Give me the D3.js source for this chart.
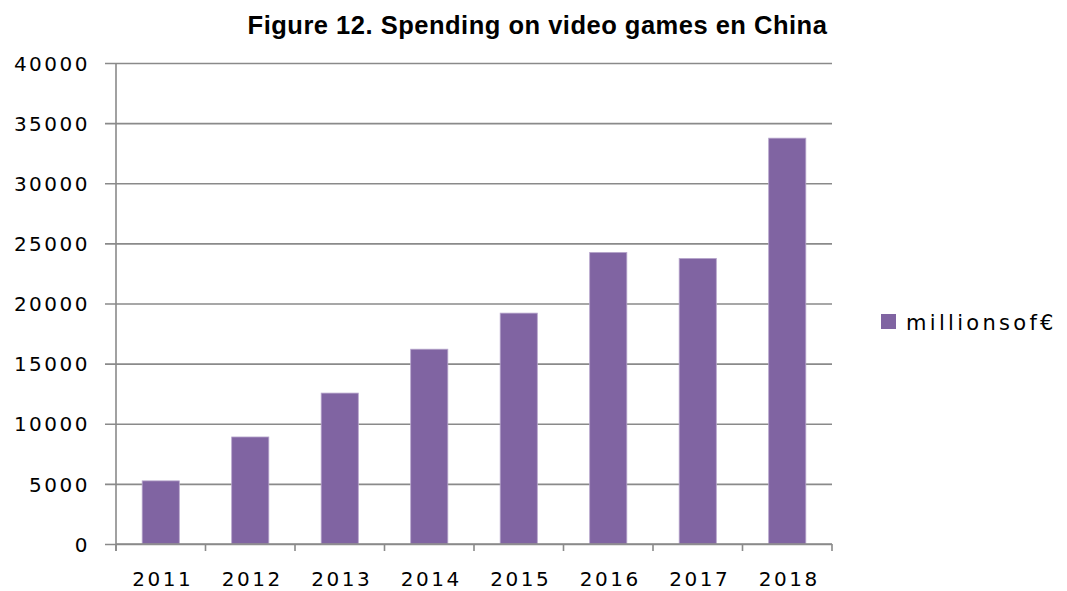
<!DOCTYPE html>
<html>
<head>
<meta charset="utf-8">
<script src="https://cdn.jsdelivr.net/npm/d3@7"></script>
<style>
  body { margin: 0; background: #fff; }
  svg text { fill: #000; }
</style>
</head>
<body>
<div id="chart"></div>
<script>
// data
var years = ["2011", "2012", "2013", "2014", "2015", "2016", "2017", "2018"];
var spending = [5250, 8900, 12550, 16200, 19200, 24250, 23750, 33750];
var yTicks = [0, 5000, 10000, 15000, 20000, 25000, 30000, 35000, 40000];
var seriesName = "millions of €";
var chartTitle = "Figure 12. Spending on video games en China";

var W = 1067, H = 591;
var MARGIN = {top: 63, right: 235, bottom: 47, left: 116};
var FONT = "DejaVu Sans, Verdana, sans-serif";

var svg = d3.select("#chart").append("svg")
  .attr("width", W).attr("height", H);

var x = d3.scaleBand()
  .domain(years)
  .range([MARGIN.left, W - MARGIN.right])
  .paddingInner(0.585)
  .paddingOuter(0.2925);

// unpadded band, for the category tick marks
var xEdge = d3.scaleBand().domain(years).range(x.range());

var y = d3.scaleLinear()
  .domain([0, 40000])
  .range([H - MARGIN.bottom, MARGIN.top]);

// gridlines + y labels
var yAxis = svg.append("g")
  .attr("transform", "translate(" + MARGIN.left + ",0)")
  .call(d3.axisLeft(y).tickValues(yTicks)
    .tickSize(-(W - MARGIN.right - MARGIN.left))
    .tickPadding(0)
    .tickFormat(d3.format("d")));
yAxis.select(".domain").remove();
yAxis.selectAll(".tick line")
  .attr("x1", -11)
  .attr("stroke", "#8a8a8a")
  .attr("stroke-width", 1.6);
yAxis.selectAll(".tick text")
  .attr("x", -26)
  .attr("dy", "0.36em")
  .attr("font-family", FONT)
  .attr("font-size", 20)
  .attr("letter-spacing", 2.5)
  .attr("fill", "#000");

// bars
svg.append("g").selectAll("rect")
  .data(spending)
  .enter().append("rect")
  .attr("x", function(d, i) { return x(years[i]); })
  .attr("y", function(d) { return y(d); })
  .attr("width", x.bandwidth())
  .attr("height", function(d) { return y(0) - y(d); })
  .attr("fill", "#8064a2")
  .attr("stroke", "#b7a6cc")
  .attr("stroke-width", 0.8);

// y axis line
svg.append("line")
  .attr("x1", MARGIN.left).attr("x2", MARGIN.left)
  .attr("y1", y(40000)).attr("y2", y(0) + 7)
  .attr("stroke", "#8a8a8a").attr("stroke-width", 1.6);

// x axis
var xAxis = svg.append("g")
  .attr("transform", "translate(0," + y(0) + ")");
xAxis.append("line")
  .attr("x1", MARGIN.left).attr("x2", W - MARGIN.right)
  .attr("stroke", "#8a8a8a").attr("stroke-width", 1.6);
xAxis.selectAll(".xt")
  .data(years.concat(["end"]))
  .enter().append("line")
  .attr("x1", function(d, i) { return i < years.length ? xEdge(d) : W - MARGIN.right; })
  .attr("x2", function(d, i) { return i < years.length ? xEdge(d) : W - MARGIN.right; })
  .attr("y1", 0).attr("y2", 7)
  .attr("stroke", "#8a8a8a").attr("stroke-width", 1.6);
xAxis.selectAll("text")
  .data(years)
  .enter().append("text")
  .attr("x", function(d) { return x(d) + x.bandwidth() / 2 + 2; })
  .attr("y", 42)
  .attr("text-anchor", "middle")
  .attr("font-family", FONT)
  .attr("font-size", 20)
  .attr("letter-spacing", 2.5)
  .text(function(d) { return d; });

// title
svg.append("text")
  .attr("x", 537.5)
  .attr("y", 34)
  .attr("text-anchor", "middle")
  .attr("font-family", "Liberation Sans, Arial, sans-serif")
  .attr("font-weight", "bold")
  .attr("font-size", 25.5)
  .attr("letter-spacing", 0.5)
  .text(chartTitle);

// legend
var legend = svg.append("g").attr("transform", "translate(881,314)");
legend.append("rect")
  .attr("width", 15).attr("height", 15)
  .attr("fill", "#8064a2");
legend.append("text")
  .attr("x", 25).attr("y", 16)
  .attr("font-family", FONT)
  .attr("font-size", 21)
  .attr("letter-spacing", 3.3)
  .attr("word-spacing", -10)
  .text(seriesName);
</script>
</body>
</html>
